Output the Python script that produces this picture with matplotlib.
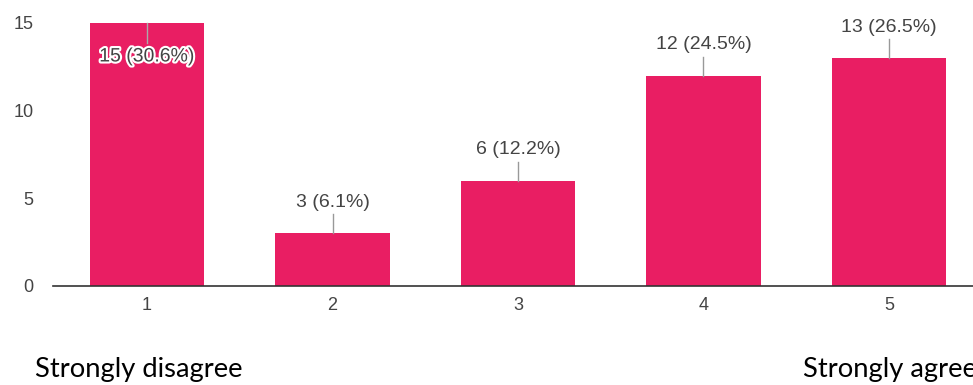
import matplotlib
matplotlib.use("Agg")
import matplotlib.pyplot as plt
import matplotlib.patheffects as pe

# data
categories = [1, 2, 3, 4, 5]
counts = [15, 3, 6, 12, 13]
percents = [30.6, 6.1, 12.2, 24.5, 26.5]
yticks = [0, 5, 10, 15]

bar_color = "#E91E63"
text_color = "#444444"

fig = plt.figure(figsize=(9.73, 3.85), dpi=100)
ax = fig.add_axes([53 / 973, (385 - 286) / 385, 920 / 973, 286 / 385])

ax.bar(categories, counts, width=0.615, color=bar_color, zorder=2)

ax.set_xlim(0.493, 5.453)
ax.set_ylim(0, 16.31)

ax.set_xticks(categories)
ax.set_xticklabels([str(c) for c in categories])
ax.set_yticks(yticks)
ax.tick_params(axis="both", length=0, colors=text_color, labelsize=13)
ax.tick_params(axis="x", pad=8)
ax.tick_params(axis="y", pad=14)
for lbl in ax.get_xticklabels() + ax.get_yticklabels():
    lbl.set_fontfamily("Liberation Sans")

for s in ["top", "right", "left"]:
    ax.spines[s].set_visible(False)
ax.spines["bottom"].set_color("#333333")
ax.spines["bottom"].set_linewidth(1.2)

# value labels with small leader lines
px = 263 / 15  # pixels per unit, used to convert offsets
for x, c, p in zip(categories, counts, percents):
    label = f"{c} ({p}%)"
    if c >= 15:
        # no room above, label drops inside the bar
        ax.plot([x, x], [c, c - 20 / px], color="#aaaaaa", lw=1, zorder=3)
        ax.text(x, c - 34 / px, label, ha="center", va="center", fontsize=14,
                color=text_color, family="Liberation Sans", zorder=4,
                path_effects=[pe.withStroke(linewidth=3, foreground="white")])
    else:
        ax.plot([x, x], [c, c + 19 / px], color="#999999", lw=1, zorder=3)
        ax.text(x, c + 31 / px, label, ha="center", va="center", fontsize=14,
                color=text_color, family="Liberation Sans", zorder=4)

fig.text(35 / 973, 1 - 377 / 385, "Strongly disagree", ha="left", va="baseline",
         fontsize=19.7, family="Lato", color="black")
fig.text(803 / 973, 1 - 377 / 385, "Strongly agree", ha="left", va="baseline",
         fontsize=19.7, family="Lato", color="black")

fig.savefig("out.png", dpi=100)
